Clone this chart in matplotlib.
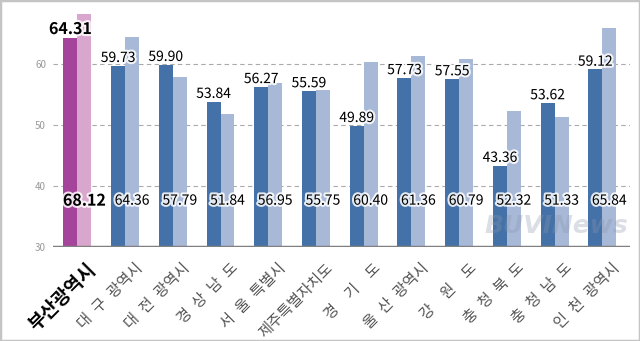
import matplotlib
matplotlib.use("Agg")
import matplotlib.pyplot as plt
import matplotlib.patheffects as pe
import matplotlib.transforms as mtransforms
from matplotlib.patches import Rectangle
import numpy as np

plt.rcParams['font.family'] = ['Noto Sans CJK KR', 'DejaVu Sans']

categories = ["부산광역시", "대 구 광역시", "대 전 광역시", "경 상 남 도", "서 울 특별시",
              "제주특별자치도", "경  기  도", "울 산 광역시", "강  원  도", "충 청 북 도",
              "충 청 남 도", "인 천 광역시"]
series_a = [64.31, 59.73, 59.90, 53.84, 56.27, 55.59, 49.89, 57.73, 57.55, 43.36, 53.62, 59.12]
series_b = [68.12, 64.36, 57.79, 51.84, 56.95, 55.75, 60.40, 61.36, 60.79, 52.32, 51.33, 65.84]
yticks = [30, 40, 50, 60]

fig = plt.figure(figsize=(6.4, 3.41), dpi=100)
ax = fig.add_axes([53/640, 1-247/341, (630-53)/640, (247-3)/341])

x = np.arange(len(categories))
w = 0.293
col_a = ['#A5449B'] + ['#4472A8'] * (len(categories) - 1)
col_b = ['#D9A7CD'] + ['#A8B9D8'] * (len(categories) - 1)

ax.bar(x - w/2, np.array(series_a) - 30, w, bottom=30, color=col_a, zorder=3, linewidth=0)
ax.bar(x + w/2, np.array(series_b) - 30, w, bottom=30, color=col_b, zorder=3, linewidth=0)

ax.set_ylim(30, 70)
ax.set_xlim(-0.51, 11.58)
for yv in yticks[1:]:
    ax.axhline(yv, color='#aaaaaa', lw=0.8, ls=(0, (4, 3)), zorder=1)
ax.axhline(30, color='#808080', lw=2.5, zorder=4)

for s in ax.spines.values():
    s.set_visible(False)
ax.set_yticks(yticks)
ax.set_yticklabels([str(v) for v in yticks], color='#999999', fontsize=7)
ax.tick_params(axis='y', length=0, pad=5)
ax.tick_params(axis='x', length=0, pad=9)
ax.set_xticks(x)
ax.set_xticklabels([c.replace(' ', '\u2002') for c in categories],
                   rotation=45, ha='right', rotation_mode='anchor')
shift = mtransforms.ScaledTranslation(9/100, 0, fig.dpi_scale_trans)
for i, t in enumerate(ax.get_xticklabels()):
    t.set_transform(t.get_transform() + shift)
    if i == 0:
        t.set_fontsize(13.5)
        t.set_fontweight('bold')
        t.set_color('black')
    else:
        t.set_fontsize(11)
        t.set_color('#555555')

halo = [pe.withStroke(linewidth=3, foreground='white', alpha=0.85)]
for i in range(len(categories)):
    big = (i == 0)
    fs = 11.5 if big else 10
    fw = 'bold' if big else 'normal'
    ax.annotate(f"{series_a[i]:.2f}", (x[i] - w/2, series_a[i]), xytext=(0, 0.5),
                textcoords='offset points', ha='center', va='bottom', fontsize=fs,
                fontweight=fw, color='black', path_effects=halo, zorder=6)
    ax.text(x[i] + w/2, 37.6, f"{series_b[i]:.2f}", ha='center', va='center',
            fontsize=fs, fontweight=fw, color='black', path_effects=halo, zorder=6)

# watermark
fig.text(628/640, 1-226/341, "BUVINews", fontsize=18, fontweight='bold', style='italic',
         color='#8a96aa', alpha=0.3, ha='right', va='center', family='DejaVu Sans', zorder=2)

fig.patches.append(Rectangle((0, 0), 1, 1, transform=fig.transFigure, fill=False,
                             edgecolor='#c4c4c4', linewidth=2.5, zorder=10))

fig.savefig("out.png", dpi=100)
